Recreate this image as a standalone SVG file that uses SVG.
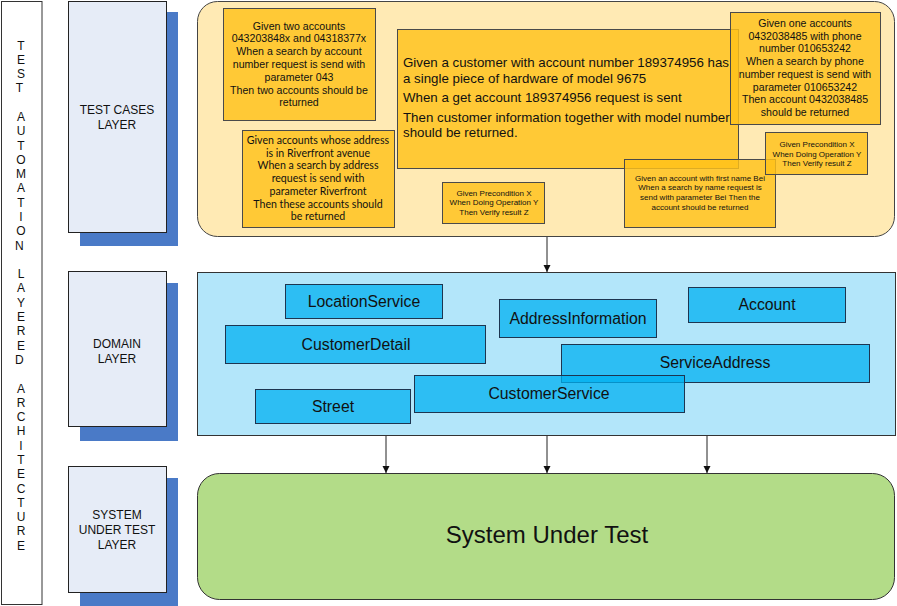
<svg xmlns="http://www.w3.org/2000/svg" width="897" height="606" viewBox="0 0 897 606">
<defs>
<style>
text{font-family:"Liberation Sans",Arial,sans-serif;fill:#111}
.lbl{font-size:12px;text-anchor:middle}
.layer{fill:#E6ECF7;stroke:#222;stroke-width:1}
.shadow{fill:#4A7AC7}
.note{fill:#FFC21A;fill-opacity:0.82;stroke:#4a4a4a;stroke-width:1}
.nt{font-size:10.6px;text-anchor:middle}
.nt2{font-family:Lato,"Liberation Sans",sans-serif;font-size:10.6px;text-anchor:middle}
.ns{font-size:8px;text-anchor:middle}
.dom{fill:#00B0F0;fill-opacity:0.75;stroke:#1d3550;stroke-width:1}
.dt{font-size:15.8px;text-anchor:middle}
.conn{stroke:#222;stroke-width:1;fill:none;marker-end:url(#ah)}
</style>
<marker id="ah" viewBox="0 0 10 10" refX="10" refY="5" markerWidth="7" markerHeight="10" markerUnits="userSpaceOnUse" orient="auto">
<path d="M0,0 L10,5 L0,10 z" fill="#111"/>
</marker>
</defs>
<rect x="0" y="0" width="897" height="606" fill="#fff"/>

<g id="title">
<rect x="1.5" y="1.5" width="40.5" height="603" fill="#fff" stroke="#333"/>
<text class="lbl" font-size="12">
<tspan x="21" y="49.5">T</tspan><tspan x="21" y="63.8">E</tspan><tspan x="21" y="78.1">S</tspan><tspan x="21" y="92.4">T</tspan>
<tspan x="21" y="121">A</tspan><tspan x="21" y="135.2">U</tspan><tspan x="21" y="149.5">T</tspan><tspan x="21" y="163.8">O</tspan><tspan x="21" y="178.1">M</tspan><tspan x="21" y="192.4">A</tspan><tspan x="21" y="206.7">T</tspan><tspan x="21" y="221">I</tspan><tspan x="21" y="235.3">O</tspan><tspan x="21" y="249.6">N</tspan>
<tspan x="21" y="278.1">L</tspan><tspan x="21" y="292.4">A</tspan><tspan x="21" y="306.7">Y</tspan><tspan x="21" y="321">E</tspan><tspan x="21" y="335.3">R</tspan><tspan x="21" y="349.6">E</tspan><tspan x="21" y="363.9">D</tspan>
<tspan x="21" y="392.5">A</tspan><tspan x="21" y="406.8">R</tspan><tspan x="21" y="421">C</tspan><tspan x="21" y="435.3">H</tspan><tspan x="21" y="449.6">I</tspan><tspan x="21" y="463.9">T</tspan><tspan x="21" y="478.2">E</tspan><tspan x="21" y="492.5">C</tspan><tspan x="21" y="506.8">T</tspan><tspan x="21" y="521.1">U</tspan><tspan x="21" y="535.4">R</tspan><tspan x="21" y="549.7">E</tspan>
</text>
</g>

<g id="layer-testcases">
<rect class="shadow" x="80" y="12" width="98" height="234"/>
<rect class="layer" x="68.5" y="1.5" width="98" height="231"/>
<text class="lbl"><tspan x="117" y="114">TEST CASES</tspan><tspan x="117" y="128.5">LAYER</tspan></text>
</g>
<g id="layer-domain">
<rect class="shadow" x="80" y="283" width="98" height="158"/>
<rect class="layer" x="68.5" y="271.5" width="98" height="155"/>
<text class="lbl"><tspan x="117" y="348">DOMAIN</tspan><tspan x="117" y="363">LAYER</tspan></text>
</g>
<g id="layer-sut">
<rect class="shadow" x="80" y="478" width="98" height="128"/>
<rect class="layer" x="68.5" y="466.5" width="98" height="126"/>
<text class="lbl"><tspan x="117" y="519">SYSTEM</tspan><tspan x="117" y="534">UNDER TEST</tspan><tspan x="117" y="549">LAYER</tspan></text>
</g>

<g id="testcases-container">
<rect x="197.5" y="1.5" width="697" height="235" rx="20" fill="#FFEAB4" stroke="#444"/>
</g>
<g id="domain-container">
<rect x="197.5" y="272.5" width="698" height="163" fill="#B3E6FA" stroke="#333"/>
</g>
<g id="sut">
<rect x="197.5" y="473.5" width="697" height="126" rx="22" fill="#B3DC88" stroke="#333"/>
<text x="547" y="542.5" font-size="24" text-anchor="middle">System Under Test</text>
</g>

<g id="connectors">
<line class="conn" x1="547" y1="237" x2="547" y2="272"/>
<line class="conn" x1="386" y1="436" x2="386" y2="473"/>
<line class="conn" x1="547" y1="436" x2="547" y2="473"/>
<line class="conn" x1="707" y1="436" x2="707" y2="473"/>
</g>

<g id="note1">
<rect class="note" x="223.5" y="8.5" width="152" height="112"/>
<text class="nt"><tspan x="299" y="29.5">Given two accounts</tspan><tspan x="299" y="42.3">043203848x and 04318377x</tspan><tspan x="299" y="55.1">When a search by account</tspan><tspan x="299" y="67.9">number request is send with</tspan><tspan x="299" y="80.7">parameter 043</tspan><tspan x="299" y="93.5">Then two accounts should be</tspan><tspan x="299" y="106.3">returned</tspan></text>
</g>
<g id="note2">
<rect class="note" x="242.5" y="130.5" width="152" height="97"/>
<text class="nt2"><tspan x="318" y="144">Given accounts whose address</tspan><tspan x="318" y="156.7">is in Riverfront avenue</tspan><tspan x="318" y="169.4">When a search by address</tspan><tspan x="318" y="182.1">request is send with</tspan><tspan x="318" y="194.8">parameter Riverfront</tspan><tspan x="318" y="207.5">Then these accounts should</tspan><tspan x="318" y="220.2">be returned</tspan></text>
</g>
<g id="note3">
<rect class="note" x="397.5" y="29.5" width="341" height="139"/>
<text font-size="13.3px"><tspan x="403" y="66.7">Given a customer with account number 189374956 has</tspan><tspan x="403" y="82.7">a single piece of hardware of model 9675</tspan><tspan x="403" y="102">When a get account 189374956 request is sent</tspan><tspan x="403" y="121.7">Then customer information together with model number</tspan><tspan x="403" y="136.7">should be returned.</tspan></text>
</g>
<g id="note4">
<rect class="note" x="730.5" y="12.5" width="150" height="112"/>
<text class="nt"><tspan x="805" y="27">Given one accounts</tspan><tspan x="805" y="39.7">0432038485 with phone</tspan><tspan x="805" y="52.4">number 010653242</tspan><tspan x="805" y="65.1">When a search by phone</tspan><tspan x="805" y="77.8">number request is send with</tspan><tspan x="805" y="90.5">parameter 010653242</tspan><tspan x="805" y="103.2">Then account 0432038485</tspan><tspan x="805" y="115.9">should be returned</tspan></text>
</g>
<g id="note5">
<rect class="note" x="442.5" y="182.5" width="102" height="41"/>
<text class="ns"><tspan x="494" y="195.5">Given Precondition X</tspan><tspan x="494" y="205.2">When Doing Operation Y</tspan><tspan x="494" y="214.9">Then Verify result Z</tspan></text>
</g>
<g id="note6">
<rect class="note" x="624.5" y="159.5" width="151" height="68"/>
<text class="ns"><tspan x="700" y="180.5">Given an account with first name Bei</tspan><tspan x="700" y="190.2">When a search by name request is</tspan><tspan x="700" y="199.9">send with parameter Bei Then the</tspan><tspan x="700" y="209.6">account should be returned</tspan></text>
</g>
<g id="note7">
<rect class="note" x="765.5" y="132.5" width="102" height="42"/>
<text class="ns"><tspan x="817" y="146.8">Given Precondition X</tspan><tspan x="817" y="156.5">When Doing Operation Y</tspan><tspan x="817" y="166.2">Then Verify result Z</tspan></text>
</g>

<g id="LocationService">
<rect class="dom" x="285.5" y="284.5" width="157" height="34"/>
<text class="dt" x="364" y="306.5">LocationService</text>
</g>
<g id="CustomerDetail">
<rect class="dom" x="225.5" y="325.5" width="260" height="38"/>
<text class="dt" x="356" y="349.5">CustomerDetail</text>
</g>
<g id="Street">
<rect class="dom" x="255.5" y="389.5" width="155" height="34"/>
<text class="dt" x="333" y="412">Street</text>
</g>
<g id="AddressInformation">
<rect class="dom" x="499.5" y="299.5" width="157" height="38"/>
<text class="dt" x="578" y="324">AddressInformation</text>
</g>
<g id="Account">
<rect class="dom" x="688.5" y="287.5" width="157" height="35"/>
<text class="dt" x="767" y="310">Account</text>
</g>
<g id="ServiceAddress">
<rect class="dom" x="561.5" y="344.5" width="308" height="38"/>
<text class="dt" x="715" y="368">ServiceAddress</text>
</g>
<g id="CustomerService">
<rect class="dom" x="414.5" y="375.5" width="270" height="37"/>
<text class="dt" x="549" y="399">CustomerService</text>
</g>
</svg>
